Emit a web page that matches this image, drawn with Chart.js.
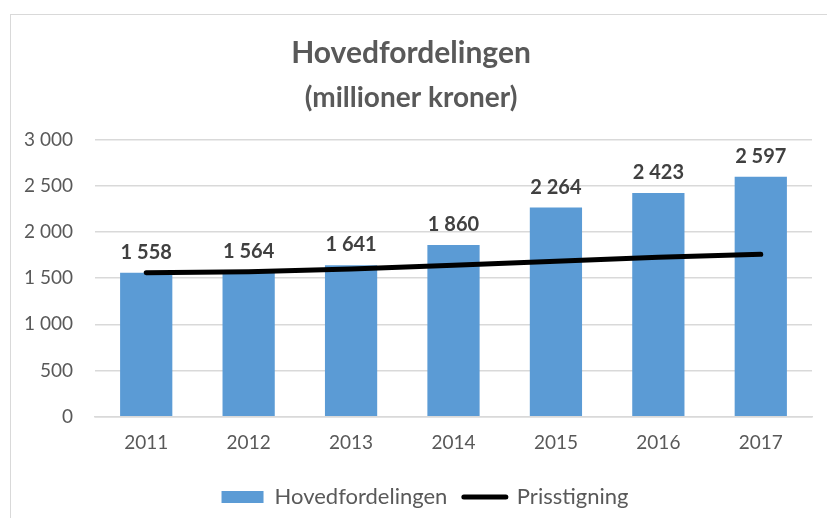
<!DOCTYPE html>
<html>
<head>
<meta charset="utf-8">
<script src="https://cdn.jsdelivr.net/npm/chart.js@4/dist/chart.umd.min.js"></script>
<style>
  html, body { margin: 0; padding: 0; background: #fff; }
  #wrap { position: relative; width: 827px; height: 518px; overflow: hidden; }
  #frame { position: absolute; left: 10px; top: 14px; width: 900px; height: 600px; border: 1px solid #d9d9d9; box-sizing: border-box; }
  canvas { position: absolute; left: 0; top: 0; }
</style>
</head>
<body>
<div id="wrap">
  <div id="frame"></div>
  <canvas id="chart" width="827" height="518"></canvas>
</div>
<script>
// Data
const years = ['2011', '2012', '2013', '2014', '2015', '2016', '2017'];
const hovedfordelingen = [1558, 1564, 1641, 1860, 2264, 2423, 2597];
const prisstigning = [1558, 1570, 1600, 1640, 1682, 1726, 1758];
const yTicks = [0, 500, 1000, 1500, 2000, 2500, 3000];

const FONT = "Lato, 'Open Sans', sans-serif";
const GREY = '#595959';

// tall med mellomrom som tusenskille
function fmt(v) {
  return String(v).replace(/\B(?=(\d{3})+(?!\d))/g, ' ');
}

// Verdier over søylene
const barLabels = {
  id: 'barLabels',
  afterDatasetsDraw(chart) {
    const meta = chart.getDatasetMeta(0);
    const ctx = chart.ctx;
    ctx.save();
    ctx.font = "bold 20px " + FONT;
    ctx.fillStyle = '#404040';
    ctx.textAlign = 'center';
    ctx.textBaseline = 'alphabetic';
    meta.data.forEach((bar, i) => {
      ctx.fillText(fmt(hovedfordelingen[i]), bar.x, bar.y - 14);
    });
    ctx.restore();
  }
};

// flytt legenden litt mot høyre
const legendShift = {
  id: 'legendShift',
  afterLayout(chart) {
    chart.legend.left += 14;
    chart.legend.right += 14;
  }
};

new Chart(document.getElementById('chart').getContext('2d'), {
  type: 'bar',
  data: {
    labels: years,
    datasets: [
      {
        label: 'Hovedfordelingen',
        data: hovedfordelingen,
        backgroundColor: '#5b9bd5',
        borderWidth: 0,
        categoryPercentage: 1,
        barPercentage: 0.51,
        order: 2
      },
      {
        type: 'line',
        label: 'Prisstigning',
        data: prisstigning,
        borderColor: '#000000',
        backgroundColor: '#000000',
        borderWidth: 5,
        borderCapStyle: 'round',
        pointRadius: 0,
        tension: 0,
        order: 1
      }
    ]
  },
  options: {
    responsive: false,
    animation: false,
    layout: { padding: { left: 10, right: 15, top: 35, bottom: 0 } },
    plugins: {
      title: {
        display: true,
        text: 'Hovedfordelingen',
        color: GREY,
        font: { family: FONT, size: 30, weight: 'bold' },
        padding: { top: 0, bottom: 10 }
      },
      subtitle: {
        display: true,
        text: '(millioner kroner)',
        color: GREY,
        font: { family: FONT, size: 28, weight: 'bold' },
        padding: { top: 0, bottom: 25 }
      },
      legend: {
        position: 'bottom',
        labels: {
          color: GREY,
          font: { family: FONT, size: 22 },
          usePointStyle: true,
          pointStyleWidth: 42,
          boxHeight: 12,
          padding: 16.5,
          generateLabels: () => [
            { text: 'Hovedfordelingen', fillStyle: '#5b9bd5', strokeStyle: '#5b9bd5', lineWidth: 0, pointStyle: 'rect', fontColor: GREY, datasetIndex: 0 },
            { text: 'Prisstigning', fillStyle: '#000000', strokeStyle: '#000000', lineWidth: 5, lineCap: 'round', pointStyle: 'line', fontColor: GREY, datasetIndex: 1 }
          ]
        }
      },
      tooltip: { enabled: false }
    },
    scales: {
      x: {
        grid: { display: false, drawTicks: false },
        border: { color: '#d9d9d9', width: 1.5 },
        ticks: { color: GREY, font: { family: FONT, size: 19 }, padding: 15 }
      },
      y: {
        min: 0,
        max: 3000,
        afterBuildTicks: (scale) => { scale.ticks = yTicks.map(v => ({ value: v })); },
        afterFit: (scale) => { scale.width = 85; },
        grid: { color: '#d9d9d9', lineWidth: 1.5, drawTicks: false },
        border: { display: false },
        ticks: { color: GREY, font: { family: FONT, size: 19 }, padding: 22, callback: (v) => fmt(v) }
      }
    }
  },
  plugins: [barLabels, legendShift]
});
</script>
</body>
</html>
